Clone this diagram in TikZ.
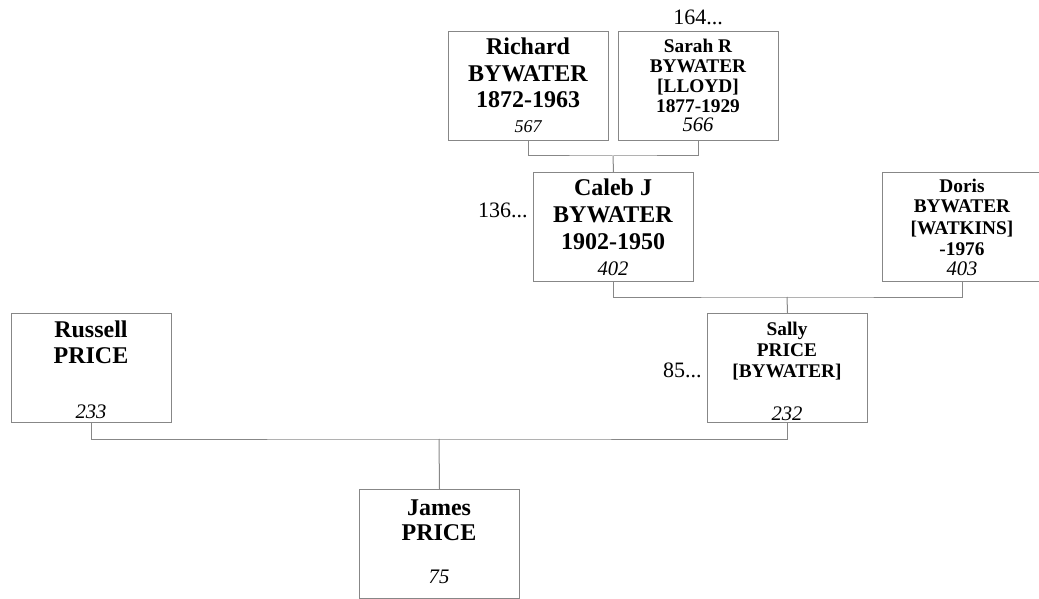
\documentclass[tikz,border=0pt]{standalone}
\usepackage{fontspec}
\setmainfont{Liberation Serif}
\definecolor{linegray}{RGB}{135,135,135}
\begin{document}
\begin{tikzpicture}[x=0.75pt,y=-0.75pt,
  box/.style={draw=linegray, line width=0.75pt, minimum width=120pt, minimum height=81.75pt, inner sep=0pt, anchor=north west},
  conn/.style={draw=linegray, line width=0.75pt},
  big/.style={font=\fontsize{18}{20}\selectfont\bfseries, anchor=base, inner sep=0pt},
  small/.style={font=\fontsize{14.5}{16}\selectfont\bfseries, anchor=base, inner sep=0pt},
  num/.style={font=\fontsize{15.5}{17}\selectfont\itshape, anchor=base, inner sep=0pt},
  numsm/.style={font=\fontsize{13.5}{15}\selectfont\itshape, anchor=base, inner sep=0pt},
  more/.style={font=\fontsize{16.5}{18}\selectfont, inner sep=0pt}]
\useasboundingbox (0,0) rectangle (1039,599);

% boxes
\node[box] (richard) at (448,31) {};
\node[box] (sarah) at (618,31) {};
\node[box] (caleb) at (533,172) {};
\node[box] (doris) at (882,172) {};
\node[box] (russell) at (11,313) {};
\node[box] (sally) at (707,313) {};
\node[box] (james) at (359,489) {};

% connectors
\coordinate (m1) at (613,156);
\coordinate (m2) at (787,297);
\coordinate (m3) at (439,439);
\draw[conn] (richard.south) |- (m1) -| (sarah.south);
\draw[conn] (m1) -- (caleb.north);
\draw[conn] (caleb.south) |- (m2) -| (doris.south);
\draw[conn] (m2) -- (sally.north);
\draw[conn] (russell.south) |- (m3) -| (sally.south);
\draw[conn] (m3) -- (james.north);

% Richard
\node[big] (r1) at (528,55) {Richard};
\node[big] (r2) at (528,82) {BYWATER};
\node[big] (r3) at (528,108) {1872-1963};
\node[numsm] (r4) at (528,133) {567};

% Sarah
\node[more, anchor=base] (s0) at (698,25) {164...};
\node[small] (s1) at (698,53) {Sarah R};
\node[small] (s2) at (698,73) {BYWATER};
\node[small] (s3) at (698,93) {[LLOYD]};
\node[small] (s4) at (698,113) {1877-1929};
\node[num] (s5) at (698,132) {566};

% Caleb
\node[more, anchor=base east] (c0) at (528,218) {136...};
\node[big] (c1) at (613,196) {Caleb J};
\node[big] (c2) at (613,223) {BYWATER};
\node[big] (c3) at (613,249) {1902-1950};
\node[num] (c4) at (613,275) {402};

% Doris
\node[small] (d1) at (962,193) {Doris};
\node[small] (d2) at (962,213) {BYWATER};
\node[small] (d3) at (962,234) {[WATKINS]};
\node[small] (d4) at (962,255) {-1976};
\node[num] (d5) at (962,275) {403};

% Russell
\node[big] (u1) at (91,337) {Russell};
\node[big] (u2) at (91,363) {PRICE};
\node[num] (u3) at (91,418) {233};

% Sally
\node[more, anchor=base east] (y0) at (702,377) {85...};
\node[small] (y1) at (787,335) {Sally};
\node[small] (y2) at (787,356) {PRICE};
\node[small] (y3) at (787,377) {[BYWATER]};
\node[num] (y4) at (787,420) {232};

% James
\node[big] (j1) at (439,515) {James};
\node[big] (j2) at (439,540) {PRICE};
\node[num] (j3) at (439,583) {75};
\end{tikzpicture}
\end{document}
